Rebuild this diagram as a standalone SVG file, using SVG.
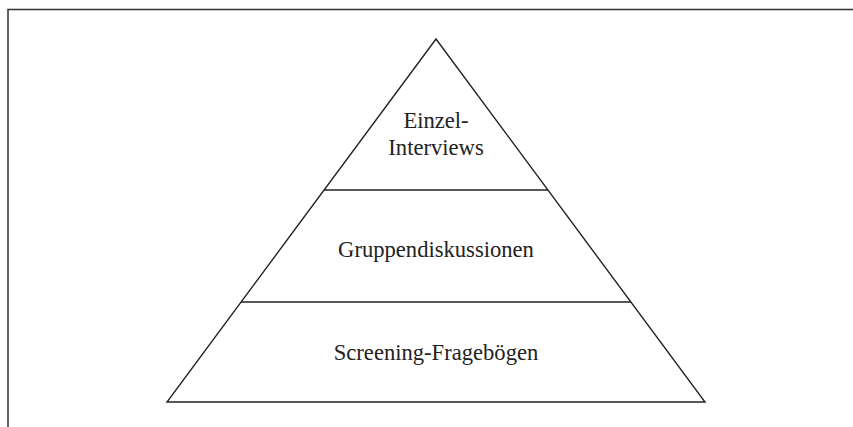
<svg xmlns="http://www.w3.org/2000/svg" width="853" height="427" viewBox="0 0 853 427">
  <style>
    .frame { fill: none; stroke: #333; stroke-width: 1.5; }
    .edge { fill: none; stroke: #222; stroke-width: 1.4; }
    .label { font-family: "Liberation Serif", "Times New Roman", serif; font-size: 22.6px; fill: #222; text-anchor: middle; }
  </style>
  <rect width="853" height="427" fill="#fff"/>
  <!-- open frame: left and top edges -->
  <path class="frame" d="M8,427 V9.5 H853"/>
  <g id="connectors">
    <!-- pyramid outline -->
    <path class="edge" d="M436,39 L705,402 L167,402 Z"/>
    <!-- tier dividers -->
    <line class="edge" x1="324" y1="190" x2="548" y2="190"/>
    <line class="edge" x1="241" y1="302" x2="631" y2="302"/>
  </g>
  <g id="tier-top">
    <text class="label" x="436" y="128">Einzel-</text>
    <text class="label" x="436" y="154.5">Interviews</text>
  </g>
  <g id="tier-middle">
    <text class="label" x="436" y="256.5">Gruppendiskussionen</text>
  </g>
  <g id="tier-bottom">
    <text class="label" x="436" y="360">Screening-Fragebögen</text>
  </g>
</svg>
